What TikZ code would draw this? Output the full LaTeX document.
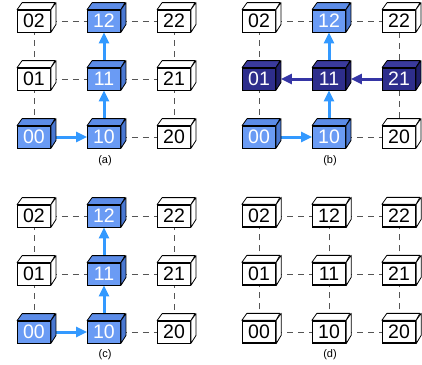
\documentclass[tikz,border=0pt]{standalone}
\usepackage{fontspec}
\setmainfont{Liberation Sans}
\usetikzlibrary{arrows.meta,backgrounds}
\definecolor{wfront}{HTML}{FFFFFF}
\definecolor{wside}{HTML}{FFFFFF}
\definecolor{wtop}{HTML}{FFFFFF}
\definecolor{wtext}{HTML}{000000}
\definecolor{bfront}{HTML}{6A9BF4}
\definecolor{bside}{HTML}{4A78D2}
\definecolor{btop}{HTML}{5C8CE8}
\definecolor{btext}{HTML}{FFFFFF}
\definecolor{nfront}{HTML}{2E2E8C}
\definecolor{nside}{HTML}{1F1F6B}
\definecolor{ntop}{HTML}{3A3A9C}
\definecolor{ntext}{HTML}{FFFFFF}
\definecolor{arrowblue}{HTML}{3399FF}
\definecolor{arrownavy}{HTML}{3535A5}
\definecolor{dashgray}{HTML}{555555}
\tikzset{
  cubefront/.style={draw=black, line width=0.8pt, minimum width=33pt, minimum height=22pt,
    inner sep=0pt, font=\fontsize{19.5}{19.5}\selectfont},
  cubeedge/.style={draw=black, line width=0.8pt, line join=round},
  gridline/.style={draw=dashgray, line width=1pt, dash pattern=on 6pt off 5pt},
  bluearrow/.style={draw=arrowblue, line width=3pt, -{Triangle[length=11pt,width=10pt]}},
  navyarrow/.style={draw=arrownavy, line width=3pt, -{Triangle[length=11pt,width=10pt]}, shorten >=5pt},
  caption/.style={font=\fontsize{11}{11}\selectfont, inner sep=0pt}
}
\newcommand\cubeat[4]{%
  \node[cubefront, fill=#3front, text=#3text] (#1) at (#2) {#4};
  \filldraw[fill=#3top, cubeedge] (#1.north west) -- ++(5,-7) -- ++(33,0) -- (#1.north east) -- cycle;
  \filldraw[fill=#3side, cubeedge] (#1.north east) -- ++(5,-7) -- ++(0,22) -- (#1.south east) -- cycle;
}
\begin{document}
\begin{tikzpicture}[x=1pt,y=-1pt]
\useasboundingbox (0,0) rectangle (422,364);
% ---------- panel (a)
\foreach \c/\r/\k in {0/0/b,0/1/w,0/2/w,1/0/b,1/1/b,1/2/b,2/0/w,2/1/w,2/2/w}
  {\cubeat{a\c\r}{{34+70*\c},{137-58*\r}}{\k}{\c\r}}
\node[caption] (capa) at (105,161) {(a)};
\begin{scope}[on background layer]
  \foreach \u/\v in {00/01,01/02,02/12,12/22,01/11,11/21,21/22,10/20,20/21}
    \draw[gridline] (a\u) -- (a\v);
  \draw[bluearrow] (a00) -- (a10);
  \draw[bluearrow] (a10) -- (a11);
  \draw[bluearrow] (a11) -- (a12);
\end{scope}
% ---------- panel (b)
\begin{scope}[shift={(225,0)}]
\foreach \c/\r/\k in {0/0/b,0/1/n,0/2/w,1/0/b,1/1/n,1/2/b,2/0/w,2/1/n,2/2/w}
  {\cubeat{b\c\r}{{34+70*\c},{137-58*\r}}{\k}{\c\r}}
\node[caption] (capb) at (105,161) {(b)};
\begin{scope}[on background layer]
  \foreach \u/\v in {00/01,01/02,02/12,12/22,22/21,21/20,10/20}
    \draw[gridline] (b\u) -- (b\v);
  \draw[bluearrow] (b00) -- (b10);
  \draw[bluearrow] (b10) -- (b11);
  \draw[bluearrow] (b11) -- (b12);
  \draw[navyarrow] (b11) -- (b01);
  \draw[navyarrow] (b21) -- (b11);
\end{scope}
\end{scope}
% ---------- panel (c)
\begin{scope}[shift={(0,195)}]
\foreach \c/\r/\k in {0/0/b,0/1/w,0/2/w,1/0/b,1/1/b,1/2/b,2/0/w,2/1/w,2/2/w}
  {\cubeat{c\c\r}{{34+70*\c},{137-58*\r}}{\k}{\c\r}}
\node[caption] (capc) at (105,160) {(c)};
\begin{scope}[on background layer]
  \foreach \u/\v in {00/01,01/02,02/12,12/22,01/11,11/21,21/22,10/20,20/21}
    \draw[gridline] (c\u) -- (c\v);
  \draw[bluearrow] (c00) -- (c10);
  \draw[bluearrow] (c10) -- (c11);
  \draw[bluearrow] (c11) -- (c12);
\end{scope}
\end{scope}
% ---------- panel (d)
\begin{scope}[shift={(225,195)}, cubefront/.append style={line width=1.3pt}]
\foreach \c/\r/\k in {0/0/w,0/1/w,0/2/w,1/0/w,1/1/w,1/2/w,2/0/w,2/1/w,2/2/w}
  {\cubeat{d\c\r}{{34+70*\c},{137-58*\r}}{\k}{\c\r}}
\node[caption] (capd) at (105,160) {(d)};
\begin{scope}[on background layer]
  \foreach \u/\v in {00/01,01/02,10/11,11/12,20/21,21/22,00/10,10/20,01/11,11/21,02/12,12/22}
    \draw[gridline] (d\u) -- (d\v);
\end{scope}
\end{scope}
\end{tikzpicture}
\end{document}
